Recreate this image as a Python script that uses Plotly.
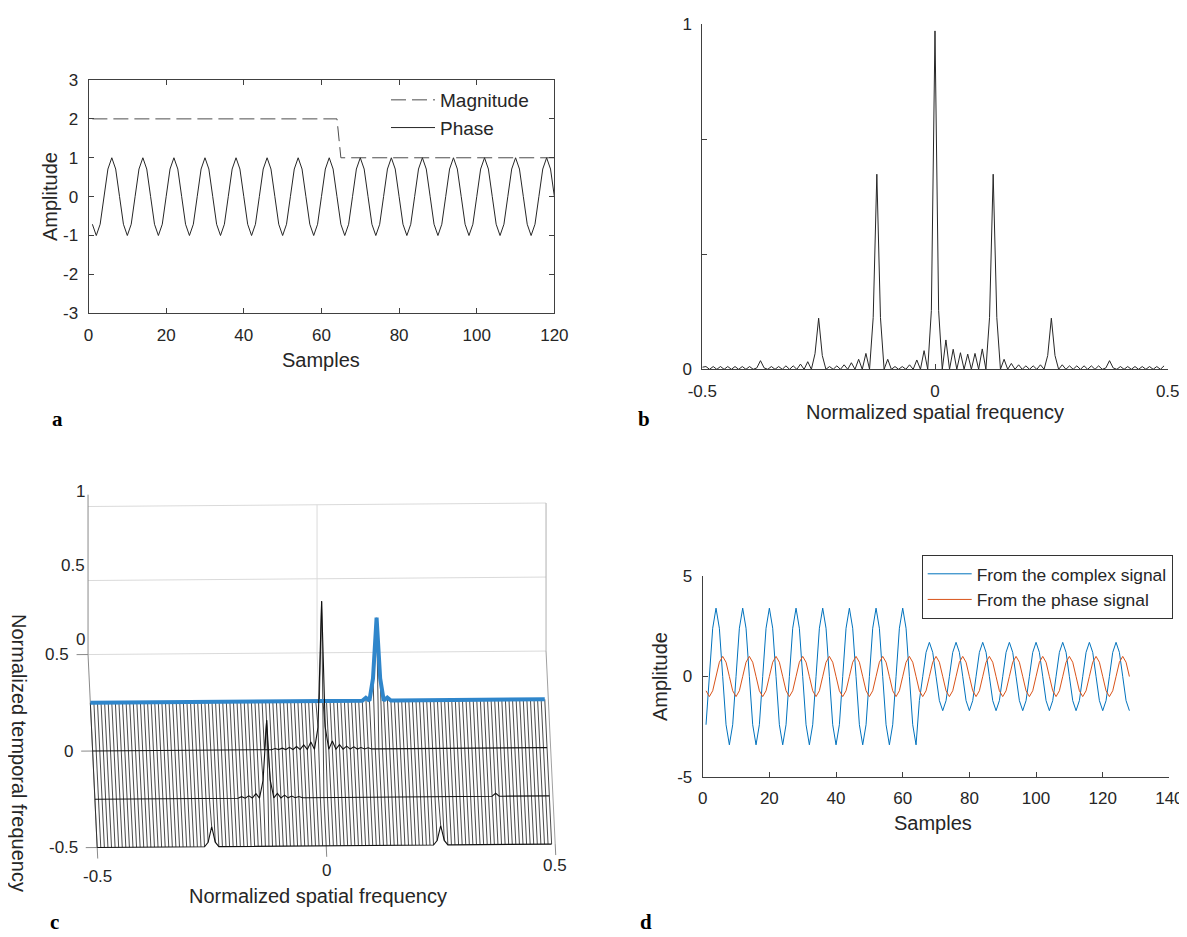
import numpy as np
import plotly.graph_objects as go

W, H = 1187, 937
OFF = 8  # the page puts the figure 8 px in from the top-left corner
FONT = "Liberation Sans, Arial, sans-serif"
SERIF = "Liberation Serif, Times New Roman, serif"
TXT = "#262626"
AX = "#404040"

# ---------------- panel a: magnitude and phase ----------------
samples_a = list(range(1, 121))
magnitude_a = [2.0] * 64 + [1.0] * 56
phase_a = [
    -0.71, -1, -0.71, 0, 0.71, 1, 0.71, 0,
    -0.71, -1, -0.71, 0, 0.71, 1, 0.71, 0,
    -0.71, -1, -0.71, 0, 0.71, 1, 0.71, 0,
    -0.71, -1, -0.71, 0, 0.71, 1, 0.71, 0,
    -0.71, -1, -0.71, 0, 0.71, 1, 0.71, 0,
    -0.71, -1, -0.71, 0, 0.71, 1, 0.71, 0,
    -0.71, -1, -0.71, 0, 0.71, 1, 0.71, 0,
    -0.71, -1, -0.71, 0, 0.71, 1, 0.71, 0,
    -0.71, -1, -0.71, 0, 0.71, 1, 0.71, 0,
    -0.71, -1, -0.71, 0, 0.71, 1, 0.71, 0,
    -0.71, -1, -0.71, 0, 0.71, 1, 0.71, 0,
    -0.71, -1, -0.71, 0, 0.71, 1, 0.71, 0,
    -0.71, -1, -0.71, 0, 0.71, 1, 0.71, 0,
    -0.71, -1, -0.71, 0, 0.71, 1, 0.71, 0,
    -0.71, -1, -0.71, 0, 0.71, 1, 0.71, 0,
]

# ---------------- panel b: spatial spectrum ----------------
freq_bins_b = list(range(-64, 64))
spectrum_b = [
    0.006, 0.008, 0, 0.008, 0, 0.008, 0, 0.008, 0, 0.008, 0, 0.008, 0, 0.008, 0, 0.004,
    0.025, 0.004, 0, 0.008, 0, 0.008, 0, 0.01, 0, 0.01, 0, 0.015, 0, 0.022, 0, 0.045,
    0.148, 0.04, 0, 0.008, 0, 0.01, 0, 0.013, 0, 0.019, 0, 0.029, 0, 0.046, 0, 0.15,
    0.565, 0.15, 0, 0.029, 0, 0.008, 0, 0.008, 0, 0.013, 0, 0.027, 0, 0.054, 0, 0.17,
    0.98, 0.17, 0, 0.085, 0, 0.058, 0, 0.048, 0, 0.044, 0, 0.046, 0, 0.059, 0, 0.15,
    0.565, 0.15, 0, 0.029, 0, 0.017, 0, 0.013, 0, 0.01, 0, 0.01, 0, 0.013, 0, 0.04,
    0.148, 0.04, 0, 0.013, 0, 0.01, 0, 0.01, 0, 0.01, 0, 0.01, 0, 0.01, 0, 0.004,
    0.025, 0.004, 0, 0.008, 0, 0.008, 0, 0.008, 0, 0.008, 0, 0.008, 0, 0.008, 0, 0.01,
]

# ---------------- panel c: spatio-temporal spectrum (mesh) ----------------
spatial_bins_c = list(range(-64, 64))
temporal_rows_c = [-0.5, -0.25, 0.0, 0.25]
row_bins_c = [
    [-33, -32, -31, 31, 32, 33],
    [-23, -21, -19, -17, -16, -15, -13, -11, -9, -7, 48],
    [-13, -11, -9, -7, -5, -3, -1, 0, 1, 3, 5, 7, 9, 11, 13],
    [13, 15, 16, 17, 19],
]
row_vals_c = [
    [0.03, 0.135, 0.03, 0.03, 0.13, 0.03],
    [0.01, 0.015, 0.03, 0.12, 0.525, 0.12, 0.03, 0.018, 0.012, 0.008, 0.02],
    [0.008, 0.01, 0.015, 0.02, 0.03, 0.05, 0.15, 1.0, 0.15, 0.055, 0.03, 0.02, 0.015, 0.01, 0.008],
    [0.02, 0.15, 0.56, 0.15, 0.02],
]

# ---------------- panel d: reconstructed signals ----------------
samples_d = list(range(1, 129))
complex_d = [
    -2.4, 0, 2.4, 3.4, 2.4, 0, -2.4, -3.4,
    -2.4, 0, 2.4, 3.4, 2.4, 0, -2.4, -3.4,
    -2.4, 0, 2.4, 3.4, 2.4, 0, -2.4, -3.4,
    -2.4, 0, 2.4, 3.4, 2.4, 0, -2.4, -3.4,
    -2.4, 0, 2.4, 3.4, 2.4, 0, -2.4, -3.4,
    -2.4, 0, 2.4, 3.4, 2.4, 0, -2.4, -3.4,
    -2.4, 0, 2.4, 3.4, 2.4, 0, -2.4, -3.4,
    -2.4, 0, 2.4, 3.4, 2.4, 0, -2.4, -3.4,
    -1.2, 0, 1.2, 1.7, 1.2, 0, -1.2, -1.7,
    -1.2, 0, 1.2, 1.7, 1.2, 0, -1.2, -1.7,
    -1.2, 0, 1.2, 1.7, 1.2, 0, -1.2, -1.7,
    -1.2, 0, 1.2, 1.7, 1.2, 0, -1.2, -1.7,
    -1.2, 0, 1.2, 1.7, 1.2, 0, -1.2, -1.7,
    -1.2, 0, 1.2, 1.7, 1.2, 0, -1.2, -1.7,
    -1.2, 0, 1.2, 1.7, 1.2, 0, -1.2, -1.7,
    -1.2, 0, 1.2, 1.7, 1.2, 0, -1.2, -1.7,
]
phase_d = [
    -0.71, -1, -0.71, 0, 0.71, 1, 0.71, 0,
    -0.71, -1, -0.71, 0, 0.71, 1, 0.71, 0,
    -0.71, -1, -0.71, 0, 0.71, 1, 0.71, 0,
    -0.71, -1, -0.71, 0, 0.71, 1, 0.71, 0,
    -0.71, -1, -0.71, 0, 0.71, 1, 0.71, 0,
    -0.71, -1, -0.71, 0, 0.71, 1, 0.71, 0,
    -0.71, -1, -0.71, 0, 0.71, 1, 0.71, 0,
    -0.71, -1, -0.71, 0, 0.71, 1, 0.71, 0,
    -0.71, -1, -0.71, 0, 0.71, 1, 0.71, 0,
    -0.71, -1, -0.71, 0, 0.71, 1, 0.71, 0,
    -0.71, -1, -0.71, 0, 0.71, 1, 0.71, 0,
    -0.71, -1, -0.71, 0, 0.71, 1, 0.71, 0,
    -0.71, -1, -0.71, 0, 0.71, 1, 0.71, 0,
    -0.71, -1, -0.71, 0, 0.71, 1, 0.71, 0,
    -0.71, -1, -0.71, 0, 0.71, 1, 0.71, 0,
    -0.71, -1, -0.71, 0, 0.71, 1, 0.71, 0,
]


def fx(p):
    return (p - OFF) / W


def fy(p):
    return 1 - (p - OFF) / H


# simple oblique projection used for the 3-D panel c
C_XSHIFT = -0.02   # horizontal drift per unit of temporal frequency
C_ZGAIN = 0.767    # screen height of one amplitude unit (in temporal units)
C_TILT = 0.018     # slight roll of the view


def proj(x, t, z):
    return x + C_XSHIFT * (t + 0.5), t + C_ZGAIN * z + C_TILT * x


fig = go.Figure()

# ---- a ----
fig.add_trace(go.Scatter(x=samples_a, y=magnitude_a, mode="lines", name="Magnitude",
                         line=dict(color="#4d4d4d", width=1, dash="15px,6px"),
                         xaxis="x", yaxis="y", legend="legend", legendgroup="m"))
fig.add_trace(go.Scatter(x=samples_a, y=phase_a, mode="lines", name="Phase",
                         line=dict(color="#262626", width=1),
                         xaxis="x", yaxis="y", legend="legend", legendgroup="p"))

# ---- b ----
freq_b = [k / 128 for k in freq_bins_b]
fig.add_trace(go.Scatter(x=freq_b, y=spectrum_b, mode="lines", showlegend=False,
                         line=dict(color="#262626", width=1), xaxis="x2", yaxis="y2"))

# ---- c ----
zc = np.zeros((len(temporal_rows_c), len(spatial_bins_c)))
for i, (bins, vals) in enumerate(zip(row_bins_c, row_vals_c)):
    for b, v in zip(bins, vals):
        zc[i, b + 64] = v
xc = np.array(spatial_bins_c) / 128

col_x, col_y = [], []
for j, x in enumerate(xc):
    for i, t in enumerate(temporal_rows_c):
        X, Y = proj(x, t, zc[i, j])
        col_x.append(X)
        col_y.append(Y)
    col_x.append(None)
    col_y.append(None)
fig.add_trace(go.Scatter(x=col_x, y=col_y, mode="lines", showlegend=False, hoverinfo="skip",
                         line=dict(color="#1a1a1a", width=0.8), xaxis="x3", yaxis="y3"))

for i in [3, 2, 1, 0]:
    t = temporal_rows_c[i]
    X, Y = proj(xc, t, zc[i])
    blue = i == 3
    fig.add_trace(go.Scatter(x=X, y=Y, mode="lines", showlegend=False, hoverinfo="skip",
                             line=dict(color="#2f86cb" if blue else "#111111",
                                       width=4 if blue else 1.1),
                             xaxis="x3", yaxis="y3"))

# ---- d ----
fig.add_trace(go.Scatter(x=samples_d, y=complex_d, mode="lines", name="From the complex signal",
                         line=dict(color="#0072BD", width=1), xaxis="x4", yaxis="y4",
                         legend="legend2", legendgroup="g1"))
fig.add_trace(go.Scatter(x=samples_d, y=phase_d, mode="lines", name="From the phase signal",
                         line=dict(color="#D95319", width=1), xaxis="x4", yaxis="y4",
                         legend="legend2", legendgroup="g2"))

# ---- frame of the 3-D box (panel c) ----
shapes = []


def seg(p0, p1, color, width=1):
    x0, y0 = proj(*p0)
    x1, y1 = proj(*p1)
    shapes.append(dict(type="line", xref="x3", yref="y3", x0=x0, y0=y0, x1=x1, y1=y1,
                       line=dict(color=color, width=width), layer="below"))


GRID = "#dadada"
EDGE = "#8a8a8a"
for z in (0, 0.5, 1):
    seg((-0.5, 0.5, z), (0.5, 0.5, z), GRID)
seg((0, 0.5, 0), (0, 0.5, 1), GRID)
seg((0, 0.5, 0), (0, 0.25, 0), GRID)
seg((-0.5, 0.5, 0), (-0.5, 0.5, 1.08), EDGE)
seg((-0.5, 0.5, 0), (-0.5, -0.5, 0), EDGE)
seg((0.5, 0.5, 0), (0.5, 0.5, 1), "#b0b0b0")
seg((0.5, 0.5, 0), (0.5, -0.5, 0), "#a0a0a0")
for x in (-0.5, 0, 0.5):
    seg((x, -0.5, 0), (x, -0.557, 0), EDGE)
for t in (-0.5, 0, 0.5):
    seg((-0.5, t, 0), (-0.525, t, 0), EDGE)

ann = []
for t, lab in zip((-0.5, 0, 0.5), ("-0.5", "0", "0.5")):
    X, Y = proj(-0.525, t, 0)
    ann.append(dict(x=X, y=Y, xref="x3", yref="y3", text=lab, showarrow=False,
                    xanchor="right", yanchor="middle", xshift=-6, font=dict(size=17, color=TXT)))
for z, lab in zip((0, 0.5, 1), ("0", "0.5", "1")):
    X, Y = proj(-0.5, 0.58, z)
    ann.append(dict(x=X, y=Y, xref="x3", yref="y3", text=lab, showarrow=False,
                    xanchor="right", yanchor="middle", xshift=0, font=dict(size=17, color=TXT)))
for x, lab in zip((-0.5, 0, 0.5), ("-0.5", "0", "0.5")):
    X, Y = proj(x, -0.5, 0)
    ann.append(dict(x=X, y=Y, xref="x3", yref="y3", text=lab, showarrow=False,
                    xanchor="center", yanchor="middle",
                    yshift=-(29 - 8 * (x + 0.5)), font=dict(size=17, color=TXT)))


def label(px, py, text, size=20, angle=0, bold=False):
    ann.append(dict(x=fx(px), y=fy(py), xref="paper", yref="paper", text=text, showarrow=False,
                    textangle=angle, xanchor="center", yanchor="middle",
                    font=dict(size=size, color="#000" if bold else TXT,
                              family=SERIF if bold else FONT)))


label(50, 197, "Amplitude", angle=-90)
label(321, 360, "Samples")
label(935, 412, "Normalized spatial frequency")
label(318, 896, "Normalized spatial frequency")
label(19, 753, "Normalized temporal frequency", angle=90)
label(660, 677, "Amplitude", angle=-90)
label(933, 823, "Samples")
label(57, 419, "<b>a</b>", size=21, bold=True)
label(644, 419, "<b>b</b>", size=21, bold=True)
label(54, 922, "<b>c</b>", size=21, bold=True)
label(646, 922, "<b>d</b>", size=21, bold=True)

axis_common = dict(showline=True, linecolor=AX, linewidth=1, ticks="inside", ticklen=5,
                   tickcolor=AX, showgrid=False, zeroline=False, automargin=False,
                   tickfont=dict(size=17, color=TXT))
xcommon = dict(axis_common, ticklabelstandoff=6)
ycommon = dict(axis_common, ticklabelstandoff=6)

# panel c axis extents chosen so that 1 unit = 458 px horizontally, 193 px vertically
CX0, CX1, CY0, CY1 = 40, 590, 470, 905
CXO, CXS, CYO, CYS = 326.2, 458, 749.3, 193

fig.update_layout(
    width=W, height=H, margin=dict(l=0, r=0, t=0, b=0, pad=0, autoexpand=False),
    paper_bgcolor="white", plot_bgcolor="white",
    font=dict(family=FONT, size=17, color=TXT),
    xaxis=dict(xcommon, domain=[fx(88.5), fx(554.4)], range=[0, 120], anchor="y",
               mirror="ticks", tickvals=[0, 20, 40, 60, 80, 100, 120]),
    yaxis=dict(ycommon, domain=[fy(313.3), fy(80)], range=[-3, 3], anchor="x",
               mirror="ticks", tickvals=[-3, -2, -1, 0, 1, 2, 3],
               ticktext=["-3", "-2", "-1", "0", "1", "2", "3"]),
    xaxis2=dict(xcommon, domain=[fx(702.3), fx(1167.7)], range=[-0.5, 0.5], anchor="y2",
                tickvals=[-0.5, 0, 0.5], ticktext=["-0.5", "0", "0.5"]),
    yaxis2=dict(ycommon, domain=[fy(369.3), fy(24)], range=[0, 1], anchor="x2",
                tickvals=[0, 1 / 3, 2 / 3, 1], ticktext=["0", "", "", "1"]),
    xaxis3=dict(visible=False, domain=[fx(CX0), fx(CX1)], anchor="y3",
                range=[(CX0 - CXO) / CXS, (CX1 - CXO) / CXS]),
    yaxis3=dict(visible=False, domain=[fy(CY1), fy(CY0)], anchor="x3",
                range=[(CYO - CY1) / CYS, (CYO - CY0) / CYS]),
    xaxis4=dict(xcommon, domain=[fx(702.7), fx(1169.4)], range=[0, 140], anchor="y4",
                tickvals=[0, 20, 40, 60, 80, 100, 120, 140]),
    yaxis4=dict(ycommon, domain=[fy(777), fy(576)], range=[-5, 5], anchor="x4",
                tickvals=[-5, 0, 5], ticktext=["-5", "0", "5"]),
    legend=dict(x=fx(386), y=fy(81), xanchor="left", yanchor="top", bgcolor="rgba(0,0,0,0)",
                borderwidth=0, font=dict(size=19, color=TXT), itemwidth=44, tracegroupgap=0),
    legend2=dict(x=fx(921.7), y=fy(555), xanchor="left", yanchor="top", bgcolor="white",
                 bordercolor="#333333", borderwidth=1, font=dict(size=17.4, color=TXT),
                 itemwidth=44, tracegroupgap=0),
    shapes=shapes,
    annotations=ann,
)

fig.write_html("out.html")
